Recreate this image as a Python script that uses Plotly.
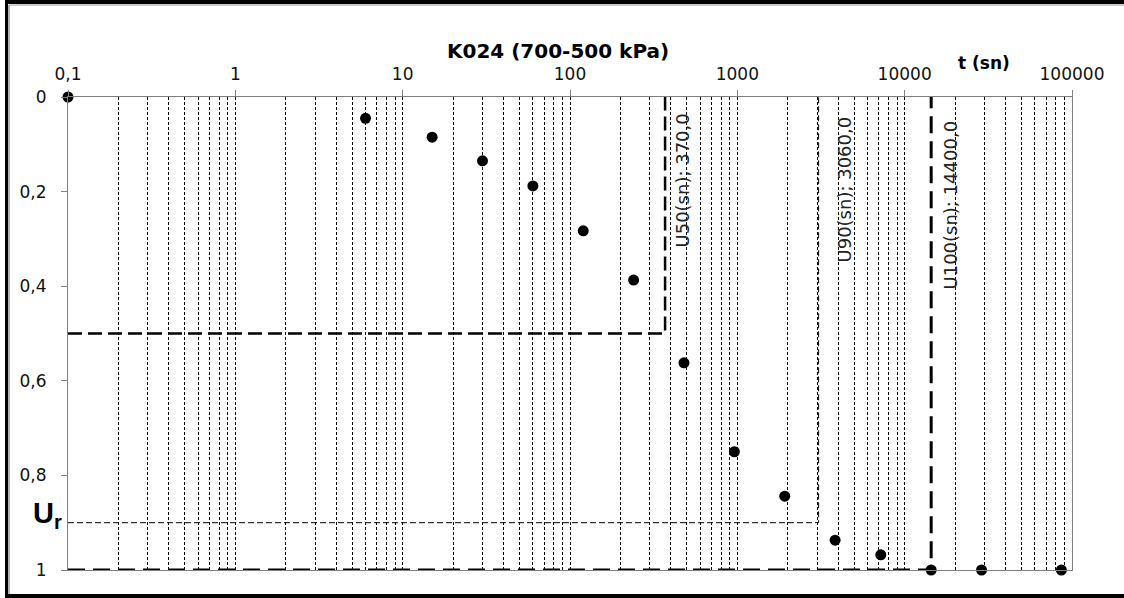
import plotly.graph_objects as go
import numpy as np

# ---- data ----
t_sn = [0.1, 6, 15, 30, 60, 120, 240, 480, 960, 1920, 3840, 7200, 14400, 28800, 86400]
u_r = [0.0, 0.045, 0.085, 0.135, 0.188, 0.283, 0.387, 0.562, 0.750, 0.844, 0.937, 0.968, 1.0, 1.0, 1.0]

t50, u50 = 370.0, 0.5
t90, u90 = 3060.0, 0.9
t100, u100 = 14400.0, 1.0

x_tickvals = [0.1, 1, 10, 100, 1000, 10000, 100000]
x_ticktext = ["0,1", "1", "10", "100", "1000", "10000", "100000"]
y_tickvals = [0, 0.2, 0.4, 0.6, 0.8, 1]
y_ticktext = ["0", "0,2", "0,4", "0,6", "0,8", "1"]

title_text = "K024 (700-500 kPa)"
x_title = "t (sn)"
lbl50 = "U50(sn); 370,0"
lbl90 = "U90(sn); 3060,0"
lbl100 = "U100(sn); 14400,0"

# ---- layout geometry (pixels) ----
W, H = 1124, 598
L, R, T, B = 68, 1072, 97, 570


def px(x):
    return (x - L) / (R - L)


def py(y):
    return (B - y) / (B - T)


minor_vals = [m * 10.0 ** e for e in range(-1, 5) for m in range(2, 10)]

fig = go.Figure()

# reference lines
fig.add_trace(go.Scatter(x=[t_sn[0], t50, t50], y=[u50, u50, 0], mode="lines",
                         line=dict(color="black", width=2.5, dash="14px,6px"),
                         cliponaxis=False, hoverinfo="skip", showlegend=False))
fig.add_trace(go.Scatter(x=[t_sn[0], t90, t90], y=[u90, u90, 0], mode="lines",
                         line=dict(color="black", width=1, dash="6px,3px"),
                         cliponaxis=False, hoverinfo="skip", showlegend=False))
fig.add_trace(go.Scatter(x=[t_sn[0], t100, t100], y=[u100, u100, 0], mode="lines",
                         line=dict(color="black", width=3, dash="17px,8px"),
                         cliponaxis=False, hoverinfo="skip", showlegend=False))

# data points
fig.add_trace(go.Scatter(x=t_sn, y=u_r, mode="markers",
                         marker=dict(color="black", size=11),
                         cliponaxis=False, showlegend=False))

tickfont = dict(family="DejaVu Sans", size=17, color="#111111")

fig.update_xaxes(type="log", range=[-1, 5], side="top",
                 tickvals=x_tickvals, ticktext=x_ticktext, tickfont=tickfont,
                 ticks="outside", ticklen=6, tickcolor="#808080", ticklabelstandoff=3,
                 showline=True, linecolor="#808080", linewidth=1, mirror=True,
                 showgrid=True, gridcolor="black", gridwidth=1, griddash="3px,2px",
                 zeroline=False,
                 minor=dict(tickvals=minor_vals, showgrid=True, gridcolor="black",
                            gridwidth=1, griddash="3px,2px", ticks=""))
fig.update_yaxes(range=[1, 0], tickvals=y_tickvals, ticktext=y_ticktext, tickfont=tickfont,
                 ticks="outside", ticklen=6, tickcolor="#808080", ticklabelstandoff=11,
                 showline=True, linecolor="#808080", linewidth=1, mirror=True,
                 showgrid=False, zeroline=False)

lblfont = dict(family="DejaVu Sans", size=18, color="#222222")
annotations = [
    dict(x=px(666 + 3), y=py(181), xref="paper", yref="paper", text=lbl50, textangle=-90,
         xanchor="left", yanchor="middle", showarrow=False, font=lblfont),
    dict(x=px(818 + 13), y=py(190), xref="paper", yref="paper", text=lbl90, textangle=-90,
         xanchor="left", yanchor="middle", showarrow=False, font=lblfont),
    dict(x=px(932 + 5), y=py(205), xref="paper", yref="paper", text=lbl100, textangle=-90,
         xanchor="left", yanchor="middle", showarrow=False, font=lblfont),
    dict(x=px(984), y=py(63), xref="paper", yref="paper", text="<b>" + x_title + "</b>",
         xanchor="center", yanchor="middle", showarrow=False,
         font=dict(family="DejaVu Sans", size=17, color="black")),
    dict(x=px(31), y=py(515), xref="paper", yref="paper", text="<b>U<sub>r</sub></b>",
         xanchor="left", yanchor="middle", showarrow=False,
         font=dict(family="Liberation Sans", size=29, color="black")),
    dict(x=px(558), y=py(51), xref="paper", yref="paper", text="<b>" + title_text + "</b>",
         xanchor="center", yanchor="middle", showarrow=False,
         font=dict(family="DejaVu Sans", size=20, color="black")),
]

shapes = [
    # outer frame
    dict(type="line", xref="paper", yref="paper", x0=px(5), x1=px(W + 5), y0=py(2), y1=py(2),
         line=dict(color="black", width=4)),
    dict(type="line", xref="paper", yref="paper", x0=px(9), x1=px(W + 5), y0=py(5), y1=py(5),
         line=dict(color="#999999", width=1)),
    dict(type="line", xref="paper", yref="paper", x0=px(6.5), x1=px(6.5), y0=py(0), y1=py(H),
         line=dict(color="black", width=3)),
    dict(type="line", xref="paper", yref="paper", x0=px(9), x1=px(9), y0=py(5), y1=py(594),
         line=dict(color="#999999", width=1.5)),
    dict(type="line", xref="paper", yref="paper", x0=px(5), x1=px(W + 5), y0=py(596), y1=py(596),
         line=dict(color="black", width=4)),
]

fig.update_layout(
    width=W, height=H,
    margin=dict(l=L, r=W - R, t=T, b=H - B),
    paper_bgcolor="white", plot_bgcolor="white",
    annotations=annotations, shapes=shapes, showlegend=False,
)

fig.write_html("out.html")
